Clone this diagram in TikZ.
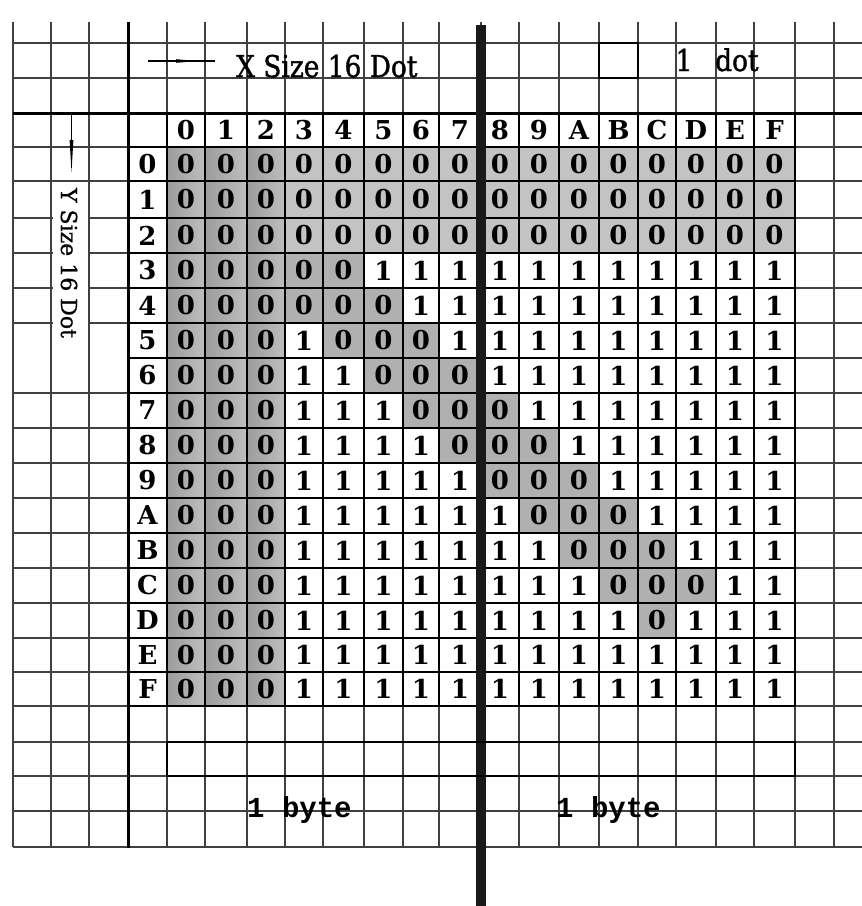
\documentclass[tikz,border=0pt]{standalone}
\usepackage{fontspec}
\setmainfont{DejaVu Serif}
\newfontfamily\xlabelfont{DejaVu Serif}[FakeStretch=0.88,FakeBold=1.2]
\newfontfamily\ylabelfont{DejaVu Serif}[FakeBold=0.8]
\newfontfamily\bytefont{Liberation Mono}
\usetikzlibrary{arrows.meta,calc}
\definecolor{gridcol}{HTML}{404040}
\definecolor{zeroA}{HTML}{9C9C9C}
\definecolor{zeroAr}{HTML}{BEBEBE}
\definecolor{zeroB}{HTML}{C3C3C3}
\definecolor{zeroC}{HTML}{B0B0B0}
\tikzset{
  gridline/.style={draw=gridcol,line width=1.3pt},
  tblline/.style={draw=black,line width=2pt},
  cellnum/.style={inner sep=0pt,font=\bfseries\fontsize{26}{26}\selectfont},
  xlabel/.style={inner sep=0pt,font=\xlabelfont\fontsize{30}{30}\selectfont},
  bytelabel/.style={inner sep=0pt,font=\bytefont\bfseries\fontsize{29}{29}\selectfont},
}
\begin{document}
\begin{tikzpicture}[x=1pt,y=-1pt]
\useasboundingbox (0,0) rectangle (862,906);
\fill[white] (0,0) rectangle (862,906);
% grid coordinates
\foreach \v [count=\i from 0] in {13,51,89,128,167,205,247,285,323,364,403,439,481,519,559,599,638,676,716,754,795,834}
  \coordinate (X\i) at (\v,0);
\foreach \v [count=\i from 0] in {43,78,113,147,181,218,253,288,323,358,393,428,463,498,533,568,603,638,672,706,742,776,811,847}
  \coordinate (Y\i) at (0,\v);
\coordinate (Ttop) at (0,22);
\coordinate (Redge) at (862,0);
% cell fills and numbers
\foreach \rowvals [count=\r from 0] in {
 {0,0,0,0,0,0,0,0,0,0,0,0,0,0,0,0},
 {0,0,0,0,0,0,0,0,0,0,0,0,0,0,0,0},
 {0,0,0,0,0,0,0,0,0,0,0,0,0,0,0,0},
 {0,0,0,0,0,1,1,1,1,1,1,1,1,1,1,1},
 {0,0,0,0,0,0,1,1,1,1,1,1,1,1,1,1},
 {0,0,0,1,0,0,0,1,1,1,1,1,1,1,1,1},
 {0,0,0,1,1,0,0,0,1,1,1,1,1,1,1,1},
 {0,0,0,1,1,1,0,0,0,1,1,1,1,1,1,1},
 {0,0,0,1,1,1,1,0,0,0,1,1,1,1,1,1},
 {0,0,0,1,1,1,1,1,0,0,0,1,1,1,1,1},
 {0,0,0,1,1,1,1,1,1,0,0,0,1,1,1,1},
 {0,0,0,1,1,1,1,1,1,1,0,0,0,1,1,1},
 {0,0,0,1,1,1,1,1,1,1,1,0,0,0,1,1},
 {0,0,0,1,1,1,1,1,1,1,1,1,0,1,1,1},
 {0,0,0,1,1,1,1,1,1,1,1,1,1,1,1,1},
 {0,0,0,1,1,1,1,1,1,1,1,1,1,1,1,1}}{
  \foreach \v [count=\c from 0] in \rowvals {
    \pgfmathtruncatemacro\xa{4+\c}
    \pgfmathtruncatemacro\xb{5+\c}
    \pgfmathtruncatemacro\ya{3+\r}
    \pgfmathtruncatemacro\yb{4+\r}
    \ifnum\v=0
      \ifnum\c<3
        \shade[left color=zeroA,right color=zeroAr] (X\xa|-Y\ya) rectangle (X\xb|-Y\yb);
      \else
        \ifnum\r<3
          \fill[zeroB] (X\xa|-Y\ya) rectangle (X\xb|-Y\yb);
        \else
          \fill[zeroC] (X\xa|-Y\ya) rectangle (X\xb|-Y\yb);
        \fi
      \fi
    \fi
    \node[cellnum] (c-\r-\c) at ($(X\xa|-Y\ya)!0.5!(X\xb|-Y\yb)$) {\v};
  }
}
% header labels
\foreach \t [count=\c from 0] in {0,1,2,3,4,5,6,7,8,9,A,B,C,D,E,F}{
  \pgfmathtruncatemacro\xa{4+\c}
  \pgfmathtruncatemacro\xb{5+\c}
  \node[cellnum] (h-\c) at ($(X\xa|-Y2)!0.5!(X\xb|-Y3)$) {\t};
}
% row labels
\foreach \t [count=\r from 0] in {0,1,2,3,4,5,6,7,8,9,A,B,C,D,E,F}{
  \pgfmathtruncatemacro\ya{3+\r}
  \pgfmathtruncatemacro\yb{4+\r}
  \node[cellnum] (rl-\r) at ($(X3|-Y\ya)!0.5!(X4|-Y\yb)$) {\t};
}
% background grid
\foreach \i in {0,...,21}
  \draw[gridline] (X\i|-Ttop) -- (X\i|-Y23);
\foreach \j in {0,...,8,10,11,...,23}
  \draw[gridline] (X0|-Y\j) -- (Redge|-Y\j);
\draw[gridline] (X3|-Y9) -- (Redge|-Y9);
% white box behind the Y label
\fill[white] (52.5,182) rectangle (87.5,391);
% table lines
\foreach \i in {3,...,20}
  \draw[tblline] (X\i|-Y2) -- (X\i|-Y19);
\foreach \j in {3,...,19}
  \draw[tblline] (X3|-Y\j) -- (X20|-Y\j);
\draw[tblline] (X11|-Y3) -- (X11|-Y19);
% thick rules
\draw[line width=3pt] (X0|-Y2) -- (Redge|-Y2);
\draw[line width=3pt] (X3|-Ttop) -- (X3|-0,848);
\draw[line width=10pt,draw=black!90] (X12|-0,25) -- (X12|-0,906);
% byte bracket and 1-dot cell
\draw[tblline] (X4|-Y20) rectangle (X20|-Y21);
\draw[tblline] (X15|-Y0) rectangle (X16|-Y1);
% X arrow and label
\coordinate (xa0) at (148,61);
\coordinate (xa1) at (215,61);
\draw[line width=1.6pt] (xa0) -- (xa1);
\fill (176,59.2) -- (198,61) -- (176,62.8) -- cycle;
\node[xlabel,anchor=base west] (xlab) at (236,77) {X Size 16 Dot};
% Y arrow and label
\coordinate (ya0) at (71.5,113);
\coordinate (ya1) at (71.5,172);
\draw[line width=1.6pt] (ya0) -- (71.5,150);
\fill (69.6,140) -- (73.4,140) -- (ya1) -- cycle;
\node[inner sep=0pt,rotate=-90,font=\ylabelfont\fontsize{22}{22}\selectfont] (ylab) at (69,263) {Y Size 16 Dot};
% 1 dot
\node[xlabel,anchor=base] (onedot1) at (684,71) {1};
\node[xlabel,anchor=base west] (onedot2) at (715,71) {dot};
% byte labels
\node[bytelabel,anchor=base west] (byte1) at (247,817) {1 byte};
\node[bytelabel,anchor=base west] (byte2) at (556,817) {1 byte};
\end{tikzpicture}
\end{document}
